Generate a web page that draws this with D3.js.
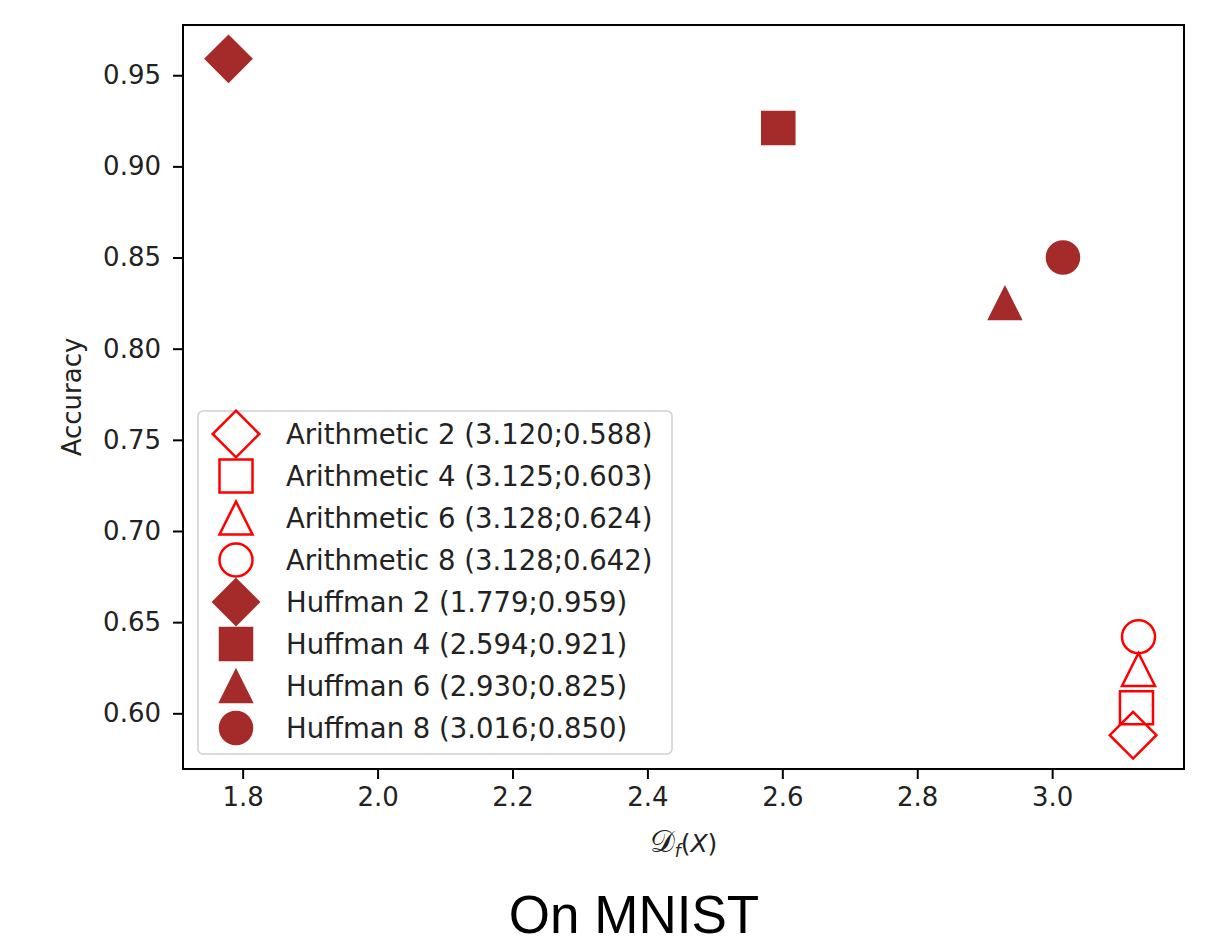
<!DOCTYPE html>
<html>
<head>
<meta charset="utf-8">
<script src="https://cdn.jsdelivr.net/npm/d3@7"></script>
<style>
  body { margin: 0; background: #fff; }
  text { font-family: "DejaVu Sans", sans-serif; }
</style>
</head>
<body>
<div id="chart"></div>
<script>
var methods = ["Arithmetic 2", "Arithmetic 4", "Arithmetic 6", "Arithmetic 8",
               "Huffman 2", "Huffman 4", "Huffman 6", "Huffman 8"];
var dfValues = [3.120, 3.125, 3.128, 3.128, 1.779, 2.594, 2.930, 3.016];
var accuracy = [0.588, 0.603, 0.624, 0.642, 0.959, 0.921, 0.825, 0.850];
var shapes = ["diamond", "square", "triangle", "circle", "diamond", "square", "triangle", "circle"];
var filled = [false, false, false, false, true, true, true, true];
var xTicks = [1.8, 2.0, 2.2, 2.4, 2.6, 2.8, 3.0];
var yTicks = [0.60, 0.65, 0.70, 0.75, 0.80, 0.85, 0.90, 0.95];

function ScatterChart() {
  var w = 1213;
  var h = 945;
  var plot = {left: 183, right: 1184, top: 25, bottom: 769};
  var markerSize = 33;

  var dataset = methods.map((m, i) => {
    return {
      name: m,
      x: dfValues[i],
      y: accuracy[i],
      shape: shapes[i],
      filled: filled[i],
      label: m + " (" + dfValues[i].toFixed(3) + ";" + accuracy[i].toFixed(3) + ")"
    };
  });

  // matplotlib style 5% margins
  var xMin = d3.min(dfValues), xMax = d3.max(dfValues);
  var yMin = d3.min(accuracy), yMax = d3.max(accuracy);
  var xPad = (xMax - xMin) * 0.05, yPad = (yMax - yMin) * 0.05;

  var xScale = d3.scaleLinear()
    .domain([xMin - xPad, xMax + xPad])
    .range([plot.left, plot.right]);

  var yScale = d3.scaleLinear()
    .domain([yMin - yPad, yMax + yPad])
    .range([plot.bottom, plot.top]);

  // marker shapes sized like matplotlib markers (size = markersize in px)
  var symbolTypes = {
    square: {draw: (ctx, s) => { var r = s / 2; ctx.rect(-r, -r, s, s); }},
    diamond: {draw: (ctx, s) => {
      var r = s / Math.SQRT2;
      ctx.moveTo(0, -r); ctx.lineTo(r, 0); ctx.lineTo(0, r); ctx.lineTo(-r, 0); ctx.closePath();
    }},
    triangle: {draw: (ctx, s) => {
      var r = s / 2;
      ctx.moveTo(0, -r); ctx.lineTo(r, r); ctx.lineTo(-r, r); ctx.closePath();
    }},
    circle: {draw: (ctx, s) => { var r = s / 2; ctx.moveTo(r, 0); ctx.arc(0, 0, r, 0, 2 * Math.PI); }}
  };

  function markerPath(shape) {
    return d3.symbol().type(symbolTypes[shape]).size(markerSize)();
  }

  function styleMarker(sel) {
    sel.attr("d", (d) => markerPath(d.shape))
      .attr("fill", (d) => d.filled ? "#a52a2a" : "none")
      .attr("stroke", (d) => d.filled ? "#a52a2a" : "#ff0000")
      .attr("stroke-width", (d) => d.filled ? 1.5 : 2.5);
  }

  var svg = d3.select("#chart")
    .append("svg")
    .attr("width", w)
    .attr("height", h);

  svg.append("rect")
    .attr("width", w)
    .attr("height", h)
    .attr("fill", "#fff");

  //Draw points
  svg.append("g")
    .selectAll("path")
    .data(dataset)
    .enter()
    .append("path")
    .attr("transform", (d) => "translate(" + xScale(d.x) + "," + yScale(d.y) + ")")
    .call(styleMarker);

  //Create xAxis
  var xAxis = d3.axisBottom(xScale)
    .tickValues(xTicks)
    .tickFormat(d3.format(".1f"))
    .tickSize(10)
    .tickPadding(9)
    .tickSizeOuter(0);

  //Create yAxis
  var yAxis = d3.axisLeft(yScale)
    .tickValues(yTicks)
    .tickFormat(d3.format(".2f"))
    .tickSize(10)
    .tickPadding(12)
    .tickSizeOuter(0);

  var gx = svg.append("g")
    .attr("transform", "translate(0," + plot.bottom + ")")
    .call(xAxis);

  var gy = svg.append("g")
    .attr("transform", "translate(" + plot.left + ",0)")
    .call(yAxis);

  [gx, gy].forEach((g) => {
    g.select(".domain").remove();
    g.selectAll(".tick line").attr("stroke", "#000").attr("stroke-width", 2);
    g.selectAll(".tick text")
      .attr("fill", "#222")
      .style("font-family", "DejaVu Sans")
      .style("font-size", "26px");
  });

  // frame
  svg.append("rect")
    .attr("x", plot.left)
    .attr("y", plot.top)
    .attr("width", plot.right - plot.left)
    .attr("height", plot.bottom - plot.top)
    .attr("fill", "none")
    .attr("stroke", "#000")
    .attr("stroke-width", 2);

  //Accuracy label
  svg.append("text")
    .attr("text-anchor", "middle")
    .attr("transform", "translate(81," + ((plot.top + plot.bottom) / 2) + ") rotate(-90)")
    .attr("fill", "#222")
    .style("font-size", "26px")
    .text("Accuracy");

  //x label D_f(X)
  var xl = svg.append("text")
    .attr("x", (plot.left + plot.right) / 2)
    .attr("y", 852)
    .attr("text-anchor", "middle")
    .attr("fill", "#222")
    .style("font-size", "25px");
  xl.append("tspan").style("font-family", "DejaVu Serif").style("font-size", "31px").text("\u{1D49F}");
  xl.append("tspan").attr("dy", 5).style("font-size", "17px").style("font-style", "italic").text("f");
  xl.append("tspan").attr("dy", -5).text("(");
  xl.append("tspan").style("font-style", "italic").text("X");
  xl.append("tspan").text(")");

  //Legend
  var legend = svg.append("g");
  legend.append("rect")
    .attr("x", 198)
    .attr("y", 411)
    .attr("width", 474)
    .attr("height", 343)
    .attr("rx", 5)
    .attr("fill", "#fff")
    .attr("fill-opacity", 0.8)
    .attr("stroke", "#d0d0d0")
    .attr("stroke-width", 1.5);

  var rows = legend.selectAll("g.row")
    .data(dataset)
    .enter()
    .append("g")
    .attr("class", "row")
    .attr("transform", (d, i) => "translate(236," + (434 + i * 42) + ")");

  rows.append("path").call(styleMarker);

  rows.append("text")
    .attr("x", 50)
    .attr("dy", "0.35em")
    .attr("fill", "#222")
    .style("font-size", "27.5px")
    .text((d) => d.label);

  //Title under the chart
  svg.append("text")
    .attr("x", 634)
    .attr("y", 933)
    .attr("text-anchor", "middle")
    .attr("fill", "#000")
    .style("font-family", "Liberation Sans, Arial, sans-serif")
    .style("font-size", "53px")
    .text("On MNIST");
}

window.onload = function () {
  ScatterChart();
};
</script>
</body>
</html>
